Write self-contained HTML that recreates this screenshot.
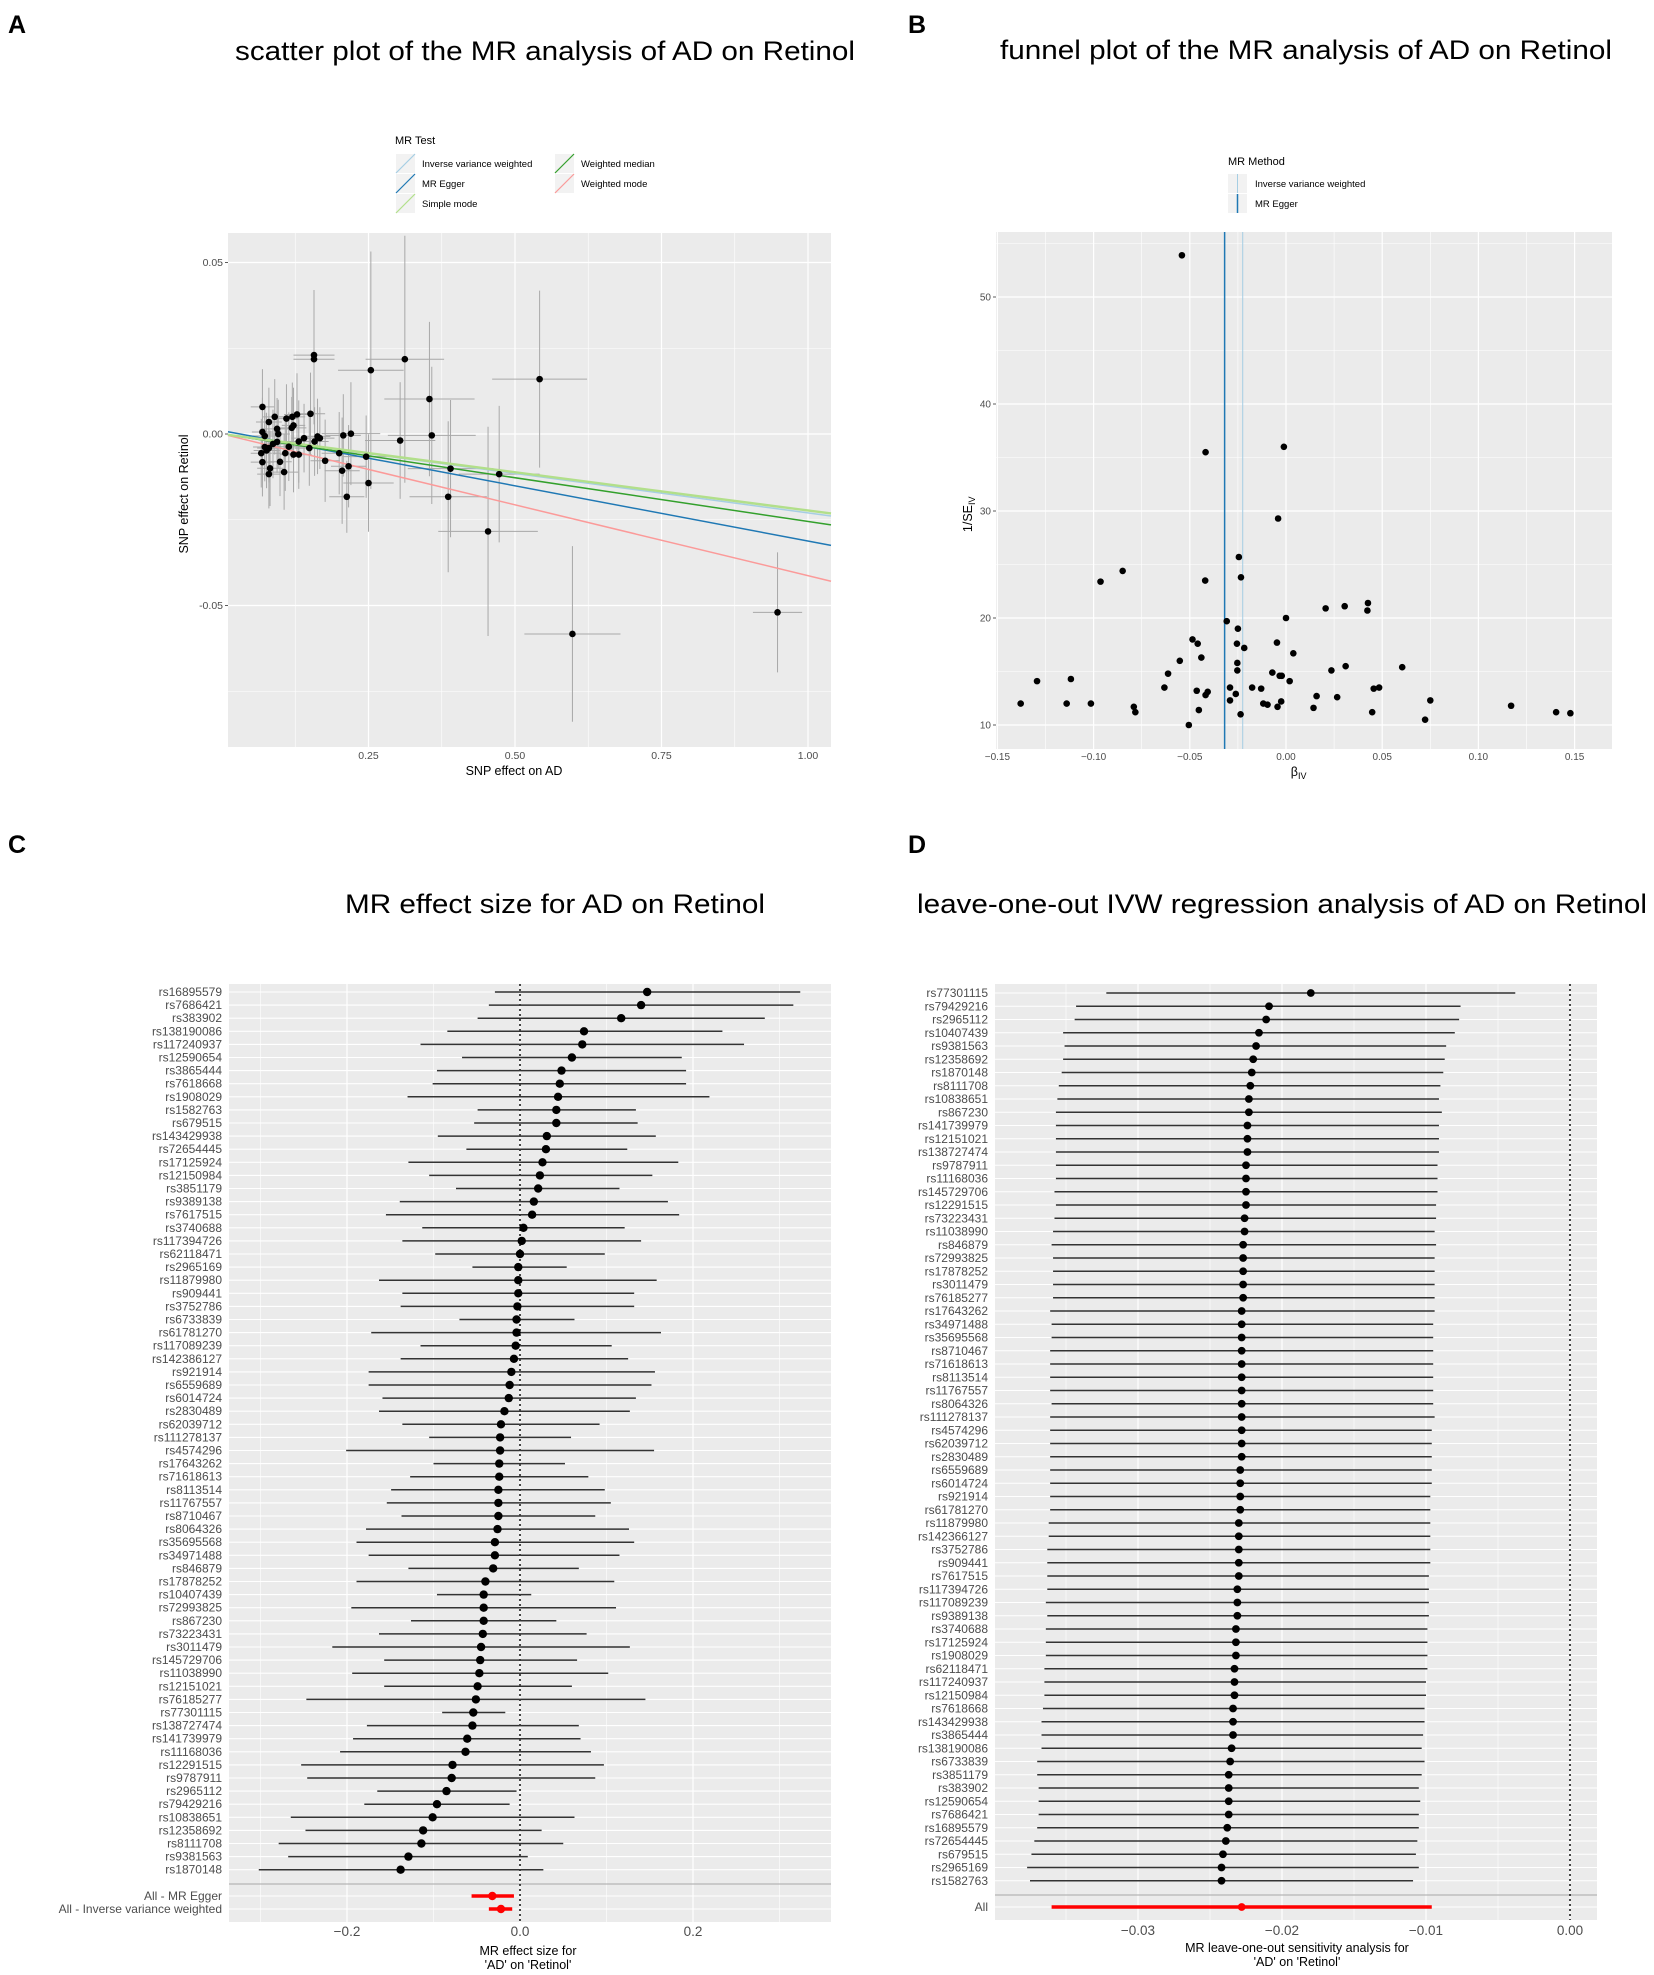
<!DOCTYPE html>
<html><head><meta charset="utf-8">
<style>
html,body{margin:0;padding:0;background:#fff;}
svg{display:block;font-family:"Liberation Sans",Arial,sans-serif;}
</style></head>
<body>
<svg id="fig" xmlns="http://www.w3.org/2000/svg" width="1654" height="1975" viewBox="0 0 1654 1975">
<rect x="0" y="0" width="1654" height="1975" fill="#fff"/>
<text x="8" y="33" font-size="25" font-weight="bold">A</text>
<text x="908" y="33" font-size="25" font-weight="bold">B</text>
<text x="8" y="853" font-size="25" font-weight="bold">C</text>
<text x="908" y="853" font-size="25" font-weight="bold">D</text>
<text x="235" y="60" font-size="27" textLength="620" lengthAdjust="spacingAndGlyphs">scatter plot of the MR analysis of AD on Retinol</text>
<text x="1000" y="59" font-size="27" textLength="612" lengthAdjust="spacingAndGlyphs">funnel plot of the MR analysis of AD on Retinol</text>
<text x="345" y="913" font-size="27" textLength="420" lengthAdjust="spacingAndGlyphs">MR effect size for AD on Retinol</text>
<text x="917" y="913" font-size="27" textLength="730" lengthAdjust="spacingAndGlyphs">leave-one-out IVW regression analysis of AD on Retinol</text>
<g id="gA"></g>
<g id="gB"></g>
<g id="gC"></g>
<g id="gD"></g>
</svg>
<script>
// ---------- Panel A data ----------
const aX = [0.542,0.598,0.948,0.454,0.473,0.386,0.390,0.358,0.354,0.312,0.304,0.254,0.250,0.246,0.220,0.213,0.216,0.205,0.207,0.200,0.176,0.157,0.157,0.151,
0.069,0.080,0.090,0.094,0.096,0.120,0.122,0.119,0.128,0.110,0.069,0.073,0.076,0.067,0.069,0.082,0.080,0.106,0.099,0.108,0.114,0.122,0.131,0.131,0.140,0.149,0.158,0.163,0.167,0.073,0.087,0.094,0.080];
const aY = [0.0160,-0.0583,-0.0520,-0.0284,-0.0117,-0.0183,-0.0101,-0.0004,0.0102,0.0218,-0.0019,0.0186,-0.0143,-0.0066,0.0001,-0.0183,-0.0094,-0.0107,-0.0004,-0.0056,-0.0078,0.0218,0.0230,0.0059,
0.0079,0.0035,0.0050,0.0015,0.0000,0.0050,0.0025,0.0018,0.0057,0.0045,0.0006,-0.0006,-0.0048,-0.0056,-0.0082,-0.0100,-0.0117,-0.0111,-0.0081,-0.0056,-0.0037,-0.0060,-0.0060,-0.0022,-0.0012,-0.0041,-0.0022,-0.0007,-0.0012,-0.0038,-0.0029,-0.0023,-0.0041];
const aSeX = [0.081,0.082,0.042,0.085,0.069,0.066,0.073,0.075,0.077,0.067,0.060,0.056,0.043,0.040,0.050,0.030,0.030,0.030,0.030,0.030,0.025,0.035,0.035,0.025,
0.020,0.022,0.020,0.025,0.020,0.022,0.020,0.025,0.022,0.020,0.018,0.020,0.022,0.018,0.020,0.022,0.020,0.024,0.020,0.022,0.025,0.024,0.022,0.025,0.022,0.025,0.024,0.022,0.025,0.020,0.020,0.022,0.020];
const aSeY = [0.0258,0.0256,0.0175,0.0305,0.0199,0.0220,0.0200,0.0200,0.0225,0.0360,0.0170,0.0346,0.0142,0.0120,0.0150,0.0105,0.0120,0.0155,0.0120,0.0120,0.0120,0.0190,0.0190,0.0120,
0.0110,0.0100,0.0110,0.0090,0.0100,0.0100,0.0110,0.0090,0.0120,0.0100,0.0100,0.0090,0.0110,0.0100,0.0100,0.0110,0.0100,0.0110,0.0100,0.0110,0.0100,0.0110,0.0100,0.0120,0.0100,0.0110,0.0100,0.0110,0.0090,0.0100,0.0100,0.0090,0.0100];
const aMethods = ["Inverse variance weighted","MR Egger","Simple mode","Weighted median","Weighted mode"];
const aSlopes = [-0.0230,-0.0322,-0.0223,-0.0255,-0.0413];
const aIntercepts = [0,0.0010,0,0,0];
const aXTicks = [0.25,0.50,0.75,1.00];
const aYTicks = [0.05,0.00,-0.05];

// ---------- Panel B data ----------
const bBeta = [-0.0541,-0.0418,-0.0011,-0.0041,-0.0849,-0.0964,-0.0420,-0.0245,-0.0234,-0.0308,0.0000,0.0206,0.0305,0.0426,0.0423,-0.0250,-0.0486,-0.0459,-0.0255,-0.0047,-0.0217,0.0038,-0.0552,-0.0440,-0.0253,-0.0253,0.0310,0.0236,0.0604,-0.0613,-0.0071,-0.0033,-0.0022,0.0019,-0.1294,-0.1118,-0.0632,-0.0464,-0.0407,-0.0418,-0.0291,-0.0261,-0.0176,-0.0129,0.0456,0.0484,0.0159,0.0266,0.0750,-0.0291,-0.0118,-0.0096,-0.0025,-0.0044,-0.1379,-0.1140,-0.1014,-0.0791,-0.0783,-0.0453,-0.0236,0.0143,0.0448,0.1170,0.1404,0.1478,0.0723,-0.0505];
const bInvSe = [53.9,35.5,36.0,29.3,24.4,23.4,23.5,25.7,23.8,19.7,20.0,20.9,21.1,21.4,20.7,19.0,18.0,17.6,17.6,17.7,17.2,16.7,16.0,16.3,15.8,15.1,15.5,15.1,15.4,14.8,14.9,14.6,14.6,14.1,14.1,14.3,13.5,13.2,13.1,12.8,13.5,12.9,13.5,13.4,13.4,13.5,12.7,12.6,12.3,12.3,12.0,11.9,12.2,11.7,12.0,12.0,12.0,11.7,11.2,11.4,11.0,11.6,11.2,11.8,11.2,11.1,10.5,10.0];
const bMethods = ["Inverse variance weighted","MR Egger"];
const bEstimates = [-0.0225,-0.0319];
const bXTicks = [-0.15,-0.10,-0.05,0.00,0.05,0.10,0.15];
const bYTicks = [10,20,30,40,50];

// ---------- Panel C data ----------
const cSnps = ["rs16895579","rs7686421","rs383902","rs138190086","rs117240937","rs12590654","rs3865444","rs7618668","rs1908029","rs1582763","rs679515","rs143429938","rs72654445","rs17125924","rs12150984","rs3851179","rs9389138","rs7617515","rs3740688","rs117394726","rs62118471","rs2965169","rs11879980","rs909441","rs3752786","rs6733839","rs61781270","rs117089239","rs142386127","rs921914","rs6559689","rs6014724","rs2830489","rs62039712","rs111278137","rs4574296","rs17643262","rs71618613","rs8113514","rs11767557","rs8710467","rs8064326","rs35695568","rs34971488","rs846879","rs17878252","rs10407439","rs72993825","rs867230","rs73223431","rs3011479","rs145729706","rs11038990","rs12151021","rs76185277","rs77301115","rs138727474","rs141739979","rs11168036","rs12291515","rs9787911","rs2965112","rs79429216","rs10838651","rs12358692","rs8111708","rs9381563","rs1870148"];
const cEst = [0.147,0.140,0.117,0.074,0.072,0.060,0.048,0.046,0.044,0.042,0.042,0.031,0.030,0.026,0.023,0.021,0.016,0.014,0.004,0.002,0.000,-0.002,-0.002,-0.002,-0.003,-0.004,-0.004,-0.005,-0.007,-0.010,-0.012,-0.013,-0.018,-0.022,-0.023,-0.023,-0.024,-0.024,-0.025,-0.025,-0.025,-0.026,-0.029,-0.029,-0.031,-0.040,-0.042,-0.042,-0.042,-0.043,-0.045,-0.046,-0.047,-0.049,-0.051,-0.054,-0.055,-0.061,-0.063,-0.078,-0.079,-0.085,-0.096,-0.101,-0.112,-0.114,-0.129,-0.138];
const cLo = [-0.029,-0.036,-0.049,-0.084,-0.115,-0.067,-0.096,-0.101,-0.130,-0.049,-0.053,-0.095,-0.062,-0.129,-0.105,-0.074,-0.139,-0.155,-0.113,-0.136,-0.098,-0.055,-0.163,-0.136,-0.138,-0.070,-0.172,-0.115,-0.138,-0.175,-0.175,-0.159,-0.163,-0.136,-0.105,-0.201,-0.100,-0.127,-0.149,-0.154,-0.137,-0.178,-0.189,-0.175,-0.129,-0.189,-0.096,-0.195,-0.126,-0.163,-0.217,-0.157,-0.194,-0.157,-0.247,-0.090,-0.177,-0.193,-0.208,-0.253,-0.246,-0.165,-0.180,-0.265,-0.248,-0.279,-0.268,-0.302];
const cHi = [0.324,0.316,0.283,0.234,0.259,0.187,0.192,0.192,0.219,0.134,0.136,0.157,0.124,0.183,0.153,0.115,0.171,0.184,0.121,0.140,0.098,0.054,0.158,0.132,0.132,0.063,0.163,0.106,0.125,0.156,0.152,0.134,0.127,0.092,0.059,0.155,0.052,0.079,0.098,0.105,0.087,0.126,0.132,0.115,0.068,0.109,0.013,0.111,0.042,0.077,0.127,0.066,0.102,0.060,0.145,-0.017,0.068,0.070,0.082,0.097,0.087,-0.004,-0.012,0.063,0.025,0.050,0.009,0.027];
const cSummaryLabels = ["All - MR Egger","All - Inverse variance weighted"];
const cSummaryEst = [-0.032,-0.022];
const cSummaryLo = [-0.056,-0.036];
const cSummaryHi = [-0.007,-0.009];
const cXTicks = [-0.2,0.0,0.2];

// ---------- Panel D data ----------
const dSnps = ["rs77301115","rs79429216","rs2965112","rs10407439","rs9381563","rs12358692","rs1870148","rs8111708","rs10838651","rs867230","rs141739979","rs12151021","rs138727474","rs9787911","rs11168036","rs145729706","rs12291515","rs73223431","rs11038990","rs846879","rs72993825","rs17878252","rs3011479","rs76185277","rs17643262","rs34971488","rs35695568","rs8710467","rs71618613","rs8113514","rs11767557","rs8064326","rs111278137","rs4574296","rs62039712","rs2830489","rs6559689","rs6014724","rs921914","rs61781270","rs11879980","rs142366127","rs3752786","rs909441","rs7617515","rs117394726","rs117089239","rs9389138","rs3740688","rs17125924","rs1908029","rs62118471","rs117240937","rs12150984","rs7618668","rs143429938","rs3865444","rs138190086","rs6733839","rs3851179","rs383902","rs12590654","rs7686421","rs16895579","rs72654445","rs679515","rs2965169","rs1582763"];
const dEst = [-0.0180,-0.0209,-0.0211,-0.0216,-0.0218,-0.0220,-0.0221,-0.0222,-0.0223,-0.0223,-0.0224,-0.0224,-0.0224,-0.0225,-0.0225,-0.0225,-0.0225,-0.0226,-0.0226,-0.0227,-0.0227,-0.0227,-0.0227,-0.0227,-0.0228,-0.0228,-0.0228,-0.0228,-0.0228,-0.0228,-0.0228,-0.0228,-0.0228,-0.0228,-0.0228,-0.0228,-0.0229,-0.0229,-0.0229,-0.0229,-0.0230,-0.0230,-0.0230,-0.0230,-0.0230,-0.0231,-0.0231,-0.0231,-0.0232,-0.0232,-0.0232,-0.0233,-0.0233,-0.0233,-0.0234,-0.0234,-0.0234,-0.0235,-0.0236,-0.0237,-0.0237,-0.0237,-0.0237,-0.0238,-0.0239,-0.0241,-0.0242,-0.0242];
const dLo = [-0.0322,-0.0343,-0.0344,-0.0352,-0.0351,-0.0352,-0.0353,-0.0355,-0.0356,-0.0357,-0.0357,-0.0357,-0.0357,-0.0357,-0.0357,-0.0358,-0.0357,-0.0358,-0.0359,-0.0360,-0.0359,-0.0359,-0.0359,-0.0359,-0.0361,-0.0360,-0.0360,-0.0361,-0.0361,-0.0361,-0.0361,-0.0360,-0.0361,-0.0361,-0.0361,-0.0361,-0.0361,-0.0361,-0.0361,-0.0361,-0.0362,-0.0362,-0.0363,-0.0363,-0.0363,-0.0363,-0.0364,-0.0363,-0.0364,-0.0364,-0.0364,-0.0365,-0.0365,-0.0365,-0.0366,-0.0367,-0.0367,-0.0367,-0.0370,-0.0370,-0.0369,-0.0369,-0.0369,-0.0370,-0.0372,-0.0374,-0.0377,-0.0375];
const dHi = [-0.0038,-0.0076,-0.0077,-0.0080,-0.0086,-0.0087,-0.0088,-0.0090,-0.0091,-0.0089,-0.0091,-0.0091,-0.0091,-0.0092,-0.0092,-0.0092,-0.0093,-0.0093,-0.0094,-0.0093,-0.0094,-0.0094,-0.0094,-0.0094,-0.0094,-0.0095,-0.0095,-0.0095,-0.0095,-0.0095,-0.0095,-0.0095,-0.0094,-0.0096,-0.0096,-0.0096,-0.0096,-0.0096,-0.0097,-0.0097,-0.0097,-0.0097,-0.0097,-0.0097,-0.0098,-0.0098,-0.0098,-0.0098,-0.0099,-0.0099,-0.0099,-0.0099,-0.0100,-0.0100,-0.0101,-0.0101,-0.0102,-0.0103,-0.0101,-0.0103,-0.0105,-0.0104,-0.0105,-0.0105,-0.0106,-0.0107,-0.0105,-0.0109];
const dAllLabel = ["All"];
const dAllEst = [-0.0228];
const dAllLo = [-0.0360];
const dAllHi = [-0.0096];
const dXTicks = [-0.03,-0.02,-0.01,0.00];

// ---------- helpers ----------
const NS = "http://www.w3.org/2000/svg";
function mk(tag, attrs, parent){
  const el = document.createElementNS(NS, tag);
  for (const k in attrs) el.setAttribute(k, attrs[k]);
  parent.appendChild(el);
  return el;
}
function txt(str, attrs, parent){
  const el = mk("text", attrs, parent);
  el.textContent = str;
  return el;
}
const BG = "#ebebeb";
const TICKC = "#4d4d4d";

// ================= Panel A =================
(function(){
  const g = document.getElementById("gA");
  const L=228,R=831,T=233,B=747;
  const xs = v => 222 + v*586;
  const ys = v => 434 - v*3430;
  let el = mk("rect",{x:L,y:T,width:R-L,height:B-T,fill:BG},g);
  
  
  [0.125,0.375,0.625,0.875].forEach(v=>{
    el = mk("line",{x1:xs(v),x2:xs(v),y1:T,y2:B,stroke:"#fff","stroke-width":0.6},g);
    
    
  });
  [0.025,-0.025,-0.075].forEach(v=>{
    el = mk("line",{x1:L,x2:R,y1:ys(v),y2:ys(v),stroke:"#fff","stroke-width":0.6},g);
    
    
  });
  aXTicks.forEach(v=>{
    el = mk("line",{x1:xs(v),x2:xs(v),y1:T,y2:B,stroke:"#fff","stroke-width":1.2},g);
    
    
    el = txt(v.toFixed(2),{x:xs(v),y:B+12,"font-size":10.5,fill:TICKC,"text-anchor":"middle"},g);
    
    
  });
  aYTicks.forEach(v=>{
    el = mk("line",{x1:L,x2:R,y1:ys(v),y2:ys(v),stroke:"#fff","stroke-width":1.2},g);
    
    
    el = mk("line",{x1:L-3,x2:L,y1:ys(v),y2:ys(v),stroke:"#333","stroke-width":0.8},g);
    
    
    el = txt(v.toFixed(2),{x:L-5,y:ys(v)+3.5,"font-size":10.5,fill:TICKC,"text-anchor":"end"},g);
    
    
  });
  for (let i=0;i<aX.length;i++){
    el = mk("line",{x1:xs(aX[i]),x2:xs(aX[i]),y1:ys(aY[i]-aSeY[i]),y2:ys(aY[i]+aSeY[i]),stroke:"#a8a8a8","stroke-width":1},g);
    
    
    el = mk("line",{x1:xs(aX[i]-aSeX[i]),x2:xs(aX[i]+aSeX[i]),y1:ys(aY[i]),y2:ys(aY[i]),stroke:"#a8a8a8","stroke-width":1},g);
    
    
  }
  const colors = ["#a6cee3","#1f78b4","#b2df8a","#33a02c","#fb9a99"];
  const x0 = (L-222)/586, x1 = (R-222)/586;
  const order = [4,1,3,0,2];
  order.forEach(i=>{
    el = mk("line",{x1:xs(x0),y1:ys(aIntercepts[i]+aSlopes[i]*x0),x2:xs(x1),y2:ys(aIntercepts[i]+aSlopes[i]*x1),stroke:colors[i],"stroke-width":i===2?2.4:1.5},g);
    
    
  });
  for (let i=0;i<aX.length;i++){
    el = mk("circle",{cx:xs(aX[i]),cy:ys(aY[i]),r:3.3,fill:"#000"},g);
    
    
  }
  el = txt("SNP effect on AD",{x:514,y:775,"font-size":12.5,fill:"#000","text-anchor":"middle"},g);
  
  
  el = txt("SNP effect on Retinol",{x:0,y:0,"font-size":12.5,fill:"#000","text-anchor":"middle",transform:"translate(188,494) rotate(-90)"},g);
  
  
  el = txt("MR Test",{x:395,y:144,"font-size":11,fill:"#000"},g);
  
  
  const pos = [[396,154],[396,174],[396,194],[555,154],[555,174]];
  [0,1,2,3,4].forEach((i,k)=>{
    const [px,py]=pos[k];
    el = mk("rect",{x:px,y:py,width:19,height:19,fill:"#f2f2f2"},g);
    
    
    el = mk("line",{x1:px,y1:py+19,x2:px+19,y2:py,stroke:colors[i],"stroke-width":1.2},g);
    
    
    el = txt(aMethods[i],{x:px+26,y:py+13,"font-size":9.5,fill:"#000"},g);
    
    
  });
})();

// ================= Panel B =================
(function(){
  const g = document.getElementById("gB");
  const L=996,R=1612,T=232,B=749;
  const xs = v => 1286 + v*1924;
  const ys = v => 725 - (v-10)*10.7;
  let el = mk("rect",{x:L,y:T,width:R-L,height:B-T,fill:BG},g);
  
  
  [-0.125,-0.075,-0.025,0.025,0.075,0.125].forEach(v=>{
    el = mk("line",{x1:xs(v),x2:xs(v),y1:T,y2:B,stroke:"#fff","stroke-width":0.6},g);
    
    
  });
  [15,25,35,45,55].forEach(v=>{
    el = mk("line",{x1:L,x2:R,y1:ys(v),y2:ys(v),stroke:"#fff","stroke-width":0.6},g);
    
    
  });
  bXTicks.forEach(v=>{
    el = mk("line",{x1:xs(v),x2:xs(v),y1:T,y2:B,stroke:"#fff","stroke-width":1.2},g);
    
    
    el = txt(v.toFixed(2).replace('-','\u2212'),{x:xs(v),y:B+11,"font-size":10,fill:TICKC,"text-anchor":"middle"},g);
    
    
  });
  bYTicks.forEach(v=>{
    el = mk("line",{x1:L,x2:R,y1:ys(v),y2:ys(v),stroke:"#fff","stroke-width":1.2},g);
    
    
    el = mk("line",{x1:L-3,x2:L,y1:ys(v),y2:ys(v),stroke:"#333","stroke-width":0.8},g);
    
    
    el = txt(String(v),{x:L-5,y:ys(v)+3.5,"font-size":10,fill:TICKC,"text-anchor":"end"},g);
    
    
  });
  const colors = ["#a6cee3","#1f78b4"];
  bEstimates.forEach((v,i)=>{
    el = mk("line",{x1:xs(v),x2:xs(v),y1:T,y2:B,stroke:colors[i],"stroke-width":i===0?1:1.5},g);
    
    
  });
  for (let i=0;i<bBeta.length;i++){
    el = mk("circle",{cx:xs(bBeta[i]),cy:ys(bInvSe[i]),r:3.3,fill:"#000"},g);
    
    
  }
  el = txt("\u03B2",{x:1298,y:776,"font-size":12.5,fill:"#000","text-anchor":"end"},g);
  
  
  el = txt("IV",{x:1298,y:779,"font-size":9,fill:"#000"},g);
  
  
  el = txt("1/SE",{x:0,y:0,"font-size":12.5,fill:"#000","text-anchor":"end",transform:"translate(972,505) rotate(-90)"},g);
  
  
  el = txt("IV",{x:0,y:0,"font-size":9,fill:"#000",transform:"translate(975,505) rotate(-90)"},g);
  
  
  el = txt("MR Method",{x:1228,y:165,"font-size":11,fill:"#000"},g);
  
  
  bMethods.forEach((m,i)=>{
    const py = 174 + i*20;
    el = mk("rect",{x:1228,y:py,width:19,height:19,fill:"#f2f2f2"},g);
    
    
    el = mk("line",{x1:1237.5,x2:1237.5,y1:py,y2:py+19,stroke:colors[i],"stroke-width":i===0?1:1.5},g);
    
    
    el = txt(m,{x:1255,y:py+13,"font-size":9.5,fill:"#000"},g);
    
    
  });
})();

// ================= Panel C =================
(function(){
  const g = document.getElementById("gC");
  const L=229,R=831,T=984,B=1922;
  const xs = v => 520 + v*865;
  const ry = i => 992 + i*13.1;
  const sumY = [1896,1909];
  let el = mk("rect",{x:L,y:T,width:R-L,height:B-T,fill:BG},g);
  
  
  [-0.3,-0.1,0.1,0.3].forEach(v=>{
    el = mk("line",{x1:xs(v),x2:xs(v),y1:T,y2:B,stroke:"#fff","stroke-width":0.6},g);
    
    
  });
  cXTicks.forEach(v=>{
    el = mk("line",{x1:xs(v),x2:xs(v),y1:T,y2:B,stroke:"#fff","stroke-width":1.2},g);
    
    
    el = txt(v.toFixed(1).replace('-','\u2212'),{x:xs(v),y:B+14,"font-size":13.5,fill:TICKC,"text-anchor":"middle"},g);
    
    
  });
  const rows = cSnps.map((s,i)=>ry(i)).concat(sumY);
  rows.forEach(y=>{
    el = mk("line",{x1:L,x2:R,y1:y,y2:y,stroke:"#fff","stroke-width":1.1},g);
    
    
  });
  el = mk("line",{x1:L,x2:R,y1:1884,y2:1884,stroke:"#b5b5b5","stroke-width":1.2},g);
  
  
  el = mk("line",{x1:xs(0),x2:xs(0),y1:T,y2:B,stroke:"#000","stroke-width":1.4,"stroke-dasharray":"2,3"},g);
  
  
  cSnps.forEach((s,i)=>{
    const y = ry(i);
    el = mk("line",{x1:xs(cLo[i]),x2:xs(cHi[i]),y1:y,y2:y,stroke:"#333","stroke-width":1.5},g);
    
    
    el = mk("circle",{cx:xs(cEst[i]),cy:y,r:4.2,fill:"#000"},g);
    
    
    el = txt(s,{x:222,y:y+4,"font-size":12,fill:TICKC,"text-anchor":"end"},g);
    
    
  });
  cSummaryLabels.forEach((s,i)=>{
    const y = sumY[i];
    el = mk("line",{x1:xs(cSummaryLo[i]),x2:xs(cSummaryHi[i]),y1:y,y2:y,stroke:"#ff0000","stroke-width":3.5},g);
    
    
    el = mk("circle",{cx:xs(cSummaryEst[i]),cy:y,r:4.2,fill:"#ff0000"},g);
    
    
    el = txt(s,{x:222,y:y+4,"font-size":12,fill:TICKC,"text-anchor":"end"},g);
    
    
  });
  el = txt("MR effect size for",{x:528,y:1955,"font-size":12.5,fill:"#000","text-anchor":"middle"},g);
  
  
  el = txt("'AD' on 'Retinol'",{x:528,y:1969,"font-size":12.5,fill:"#000","text-anchor":"middle"},g);
  
  
})();

// ================= Panel D =================
(function(){
  const g = document.getElementById("gD");
  const L=995,R=1597,T=984,B=1920;
  const xs = v => 1570 + v*14400;
  const ry = i => 993 + i*13.25;
  const allY = 1907;
  let el = mk("rect",{x:L,y:T,width:R-L,height:B-T,fill:BG},g);
  
  
  [-0.035,-0.025,-0.015,-0.005].forEach(v=>{
    el = mk("line",{x1:xs(v),x2:xs(v),y1:T,y2:B,stroke:"#fff","stroke-width":0.6},g);
    
    
  });
  dXTicks.forEach(v=>{
    el = mk("line",{x1:xs(v),x2:xs(v),y1:T,y2:B,stroke:"#fff","stroke-width":1.2},g);
    
    
    el = txt(v.toFixed(2).replace('-','\u2212'),{x:xs(v),y:B+15,"font-size":13.5,fill:TICKC,"text-anchor":"middle"},g);
    
    
  });
  const rows = dSnps.map((s,i)=>ry(i)).concat([allY]);
  rows.forEach(y=>{
    el = mk("line",{x1:L,x2:R,y1:y,y2:y,stroke:"#fff","stroke-width":1.1},g);
    
    
  });
  el = mk("line",{x1:L,x2:R,y1:1895,y2:1895,stroke:"#b5b5b5","stroke-width":1.2},g);
  
  
  el = mk("line",{x1:xs(0),x2:xs(0),y1:T,y2:B,stroke:"#000","stroke-width":1.4,"stroke-dasharray":"2,3"},g);
  
  
  dSnps.forEach((s,i)=>{
    const y = ry(i);
    el = mk("line",{x1:xs(dLo[i]),x2:xs(dHi[i]),y1:y,y2:y,stroke:"#333","stroke-width":1.5},g);
    
    
    el = mk("circle",{cx:xs(dEst[i]),cy:y,r:3.9,fill:"#000"},g);
    
    
    el = txt(s,{x:988,y:y+4,"font-size":12,fill:TICKC,"text-anchor":"end"},g);
    
    
  });
  el = mk("line",{x1:xs(dAllLo[0]),x2:xs(dAllHi[0]),y1:allY,y2:allY,stroke:"#ff0000","stroke-width":3.5},g);
  
  
  el = mk("circle",{cx:xs(dAllEst[0]),cy:allY,r:3.9,fill:"#ff0000"},g);
  
  
  el = txt(dAllLabel[0],{x:988,y:allY+4,"font-size":12,fill:TICKC,"text-anchor":"end"},g);
  
  
  el = txt("MR leave-one-out sensitivity analysis for",{x:1297,y:1952,"font-size":12.5,fill:"#000","text-anchor":"middle"},g);
  
  
  el = txt("'AD' on 'Retinol'",{x:1297,y:1966,"font-size":12.5,fill:"#000","text-anchor":"middle"},g);
  
  
})();
</script>
</body></html>
